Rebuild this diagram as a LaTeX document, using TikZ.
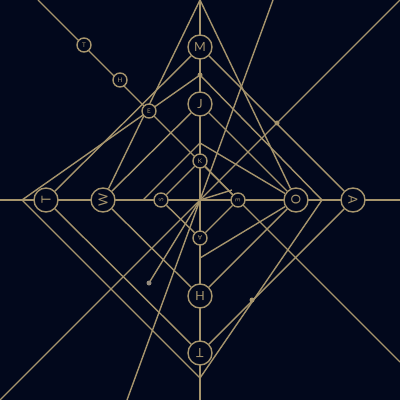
\documentclass[tikz,border=0pt]{standalone}
\usepackage{fontspec}
\setmainfont{Lato}
\definecolor{bgc}{RGB}{2,8,28}
\definecolor{gold}{RGB}{166,148,108}
\definecolor{dotg}{RGB}{150,140,125}
\pgfdeclarelayer{bglayer}
\pgfdeclarelayer{lines}
\pgfsetlayers{bglayer,lines,main}
\begin{document}
\begin{tikzpicture}[x=0.025cm,y=-0.025cm,
  ln/.style={draw=gold,line width=1pt},
  big/.style={circle,draw=gold,fill=bgc,line width=1pt,minimum size=24*0.025cm,inner sep=0pt,text=gold,font=\fontsize{9}{9}\selectfont},
  small/.style={circle,draw=gold,fill=bgc,line width=1pt,minimum size=14*0.025cm,inner sep=0pt,text=gold,font=\fontsize{4.5}{4.5}\selectfont},
  dotm/.style={circle,fill=gold,inner sep=0pt,minimum size=5*0.025cm}]
\begin{pgfonlayer}{bglayer}
\fill[bgc] (0,0) rectangle (400,400);
\end{pgfonlayer}
\useasboundingbox (0,0) rectangle (400,400);
% letter nodes
\node[big] (M) at (200,47) {M};
\node[big] (J) at (200,104) {J};
\node[small] (K) at (200,161) {K};
\node[small,rotate=90] (S) at (161,200) {S};
\node[small,rotate=-90] (E) at (238,200) {E};
\node[small,rotate=180] (A1) at (200,238) {A};
\node[big,rotate=180] (H) at (200,296) {H};
\node[big,rotate=180] (T2) at (200,353) {T};
\node[big,rotate=90] (T1) at (46,200) {T};
\node[big,rotate=90] (W) at (103,200) {W};
\node[big,rotate=-90] (D) at (296,200) {O};
\node[big,rotate=-90] (A2) at (353,200) {A};
\node[small] (t) at (84,45) {T};
\node[small] (h) at (120,80) {H};
\node[small] (e) at (149,111) {E};
% free coordinates
\coordinate (C) at (200,200);
\coordinate (hl) at (0,200); \coordinate (hr) at (400,200);
\coordinate (vt) at (200,0); \coordinate (vb) at (200,400);
\coordinate (d1a) at (38,0); \coordinate (d1b) at (400,362);
\coordinate (d2a) at (0,400); \coordinate (d2b) at (400,0);
\coordinate (s1a) at (273,0); \coordinate (s1b) at (127,400);
\coordinate (kl) at (22,200); \coordinate (kt) at (200,75);
\coordinate (kr) at (322,200); \coordinate (kb) at (200,378);
\coordinate (ql) at (143,200); \coordinate (qt) at (200,143);
\coordinate (qb) at (200,258);
\coordinate (p1) at (149,283); \coordinate (p2) at (232,190);
\coordinate (x1) at (277,123); \coordinate (x2) at (252,300);
\begin{pgfonlayer}{lines}
\draw[ln] (hl) -- (hr);
\draw[ln] (vt) -- (vb);
\draw[ln] (d1a) -- (d1b);
\draw[ln] (d2a) -- (d2b);
\draw[ln] (s1a) -- (s1b);
\draw[ln] (M) -- (A2) -- (T2) -- (T1) -- (M);
\draw[ln] (J) -- (D) -- (H) -- (W) -- (J);
\draw[ln] (K) -- (E) -- (A1) -- (S) -- (K);
\draw[ln] (vt) -- (W);
\draw[ln] (vt) -- (D);
\draw[ln] (kl) -- (kt) -- (kr) -- (kb) -- cycle;
\draw[ln] (ql) -- (qt) -- (D) -- (qb) -- cycle;
\draw[ln] (C) -- (p1);
\draw[ln] (C) -- (p2);
\end{pgfonlayer}
\node[dotm] (dk) at (kt) {};
\node[dotm] (dx1) at (x1) {};
\node[dotm] (dx2) at (x2) {};
\node[dotm,fill=dotg] (dp1) at (p1) {};
\end{tikzpicture}
\end{document}
